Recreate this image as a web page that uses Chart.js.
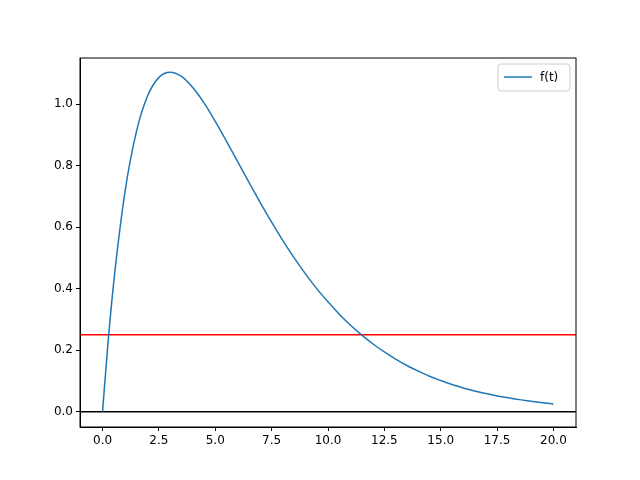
<!DOCTYPE html>
<html>
<head>
<script src="https://cdn.jsdelivr.net/npm/chart.js@4"></script>
<style>body{margin:0;background:#fff}</style>
</head>
<body>
<canvas id="c" width="640" height="480"></canvas>
<script>
// values of f(t)
const tValues = [0, 0.25, 0.5, 1, 1.5, 2, 2.5, 3, 3.5, 4, 4.5, 5, 5.5, 6, 6.5, 7, 7.5, 8, 8.5, 9, 9.5, 10,
    10.5, 11, 11.5, 12, 12.5, 13, 13.5, 14, 14.5, 15, 15.5, 16, 16.5, 17, 17.5, 18, 18.5, 19, 19.5, 20];
const fValues = [0, 0.230, 0.423, 0.717, 0.910, 1.027, 1.087, 1.104, 1.090, 1.054, 1.004, 0.944, 0.879, 0.812,
    0.745, 0.679, 0.616, 0.556, 0.500, 0.448, 0.400, 0.357, 0.317, 0.281, 0.249, 0.220, 0.194, 0.171, 0.150,
    0.132, 0.115, 0.101, 0.088, 0.077, 0.067, 0.059, 0.051, 0.045, 0.039, 0.034, 0.029, 0.025];
const redLevel = 0.25;
const zeroLevel = 0;
const xTicks = [0, 2.5, 5, 7.5, 10, 12.5, 15, 17.5, 20];
const yTicks = [0, 0.2, 0.4, 0.6, 0.8, 1.0];
const xMin = -1, xMax = 21, yMin = -0.05, yMax = 1.15;

const font = { family: 'DejaVu Sans', size: 12 };

const frameAndLegend = {
    id: 'frameAndLegend',
    afterDraw(chart) {
        const { ctx, chartArea: a } = chart;
        ctx.save();
        ctx.strokeStyle = '#000';
        ctx.lineWidth = 1;
        ctx.strokeRect(a.left, a.top, a.right - a.left, a.bottom - a.top);
        // legend
        const lx = a.right - 78, ly = a.top + 6;
        ctx.fillStyle = '#fff';
        ctx.strokeStyle = '#ccc';
        ctx.beginPath();
        ctx.roundRect(lx, ly, 72, 27, 3);
        ctx.fill(); ctx.stroke();
        ctx.strokeStyle = '#1f77b4';
        ctx.lineWidth = 1.5;
        ctx.beginPath();
        ctx.moveTo(lx + 6, ly + 13); ctx.lineTo(lx + 34, ly + 13);
        ctx.stroke();
        ctx.fillStyle = '#000';
        ctx.font = '12px DejaVu Sans';
        ctx.textBaseline = 'middle';
        ctx.fillText('f(t)', lx + 42, ly + 14);
        ctx.restore();
    }
};

new Chart(document.getElementById('c'), {
    type: 'scatter',
    data: {
        datasets: [
            {
                label: 'f(t)',
                data: tValues.map((t, i) => ({ x: t, y: fValues[i] })),
                showLine: true, borderColor: '#1f77b4', borderWidth: 1.5,
                pointRadius: 0, tension: 0.4, cubicInterpolationMode: 'monotone', order: 0
            },
            {
                data: [{ x: xMin, y: redLevel }, { x: xMax, y: redLevel }],
                showLine: true, borderColor: 'red', borderWidth: 1.5, pointRadius: 0, order: 1
            },
            {
                data: [{ x: xMin, y: zeroLevel }, { x: xMax, y: zeroLevel }],
                showLine: true, borderColor: 'black', borderWidth: 1.5, pointRadius: 0, order: 2
            }
        ]
    },
    options: {
        responsive: false,
        animation: false,
        layout: { padding: { top: 58, right: 64 } },
        plugins: { legend: { display: false }, tooltip: { enabled: false } },
        scales: {
            x: {
                min: xMin, max: xMax,
                afterBuildTicks: s => { s.ticks = xTicks.map(v => ({ value: v })); },
                afterFit: s => { s.height = 53; },
                grid: { drawOnChartArea: false, tickLength: 4, color: '#000' },
                border: { color: '#000' },
                ticks: { color: '#000', font, padding: 3, maxRotation: 0, callback: v => v.toFixed(1) }
            },
            y: {
                min: yMin, max: yMax,
                afterBuildTicks: s => { s.ticks = yTicks.map(v => ({ value: v })); },
                afterFit: s => { s.width = 80; },
                grid: { drawOnChartArea: false, tickLength: 4, color: '#000' },
                border: { color: '#000' },
                ticks: { color: '#000', font, padding: 3, callback: v => v.toFixed(1) }
            }
        }
    },
    plugins: [frameAndLegend]
});
</script>
</body>
</html>
